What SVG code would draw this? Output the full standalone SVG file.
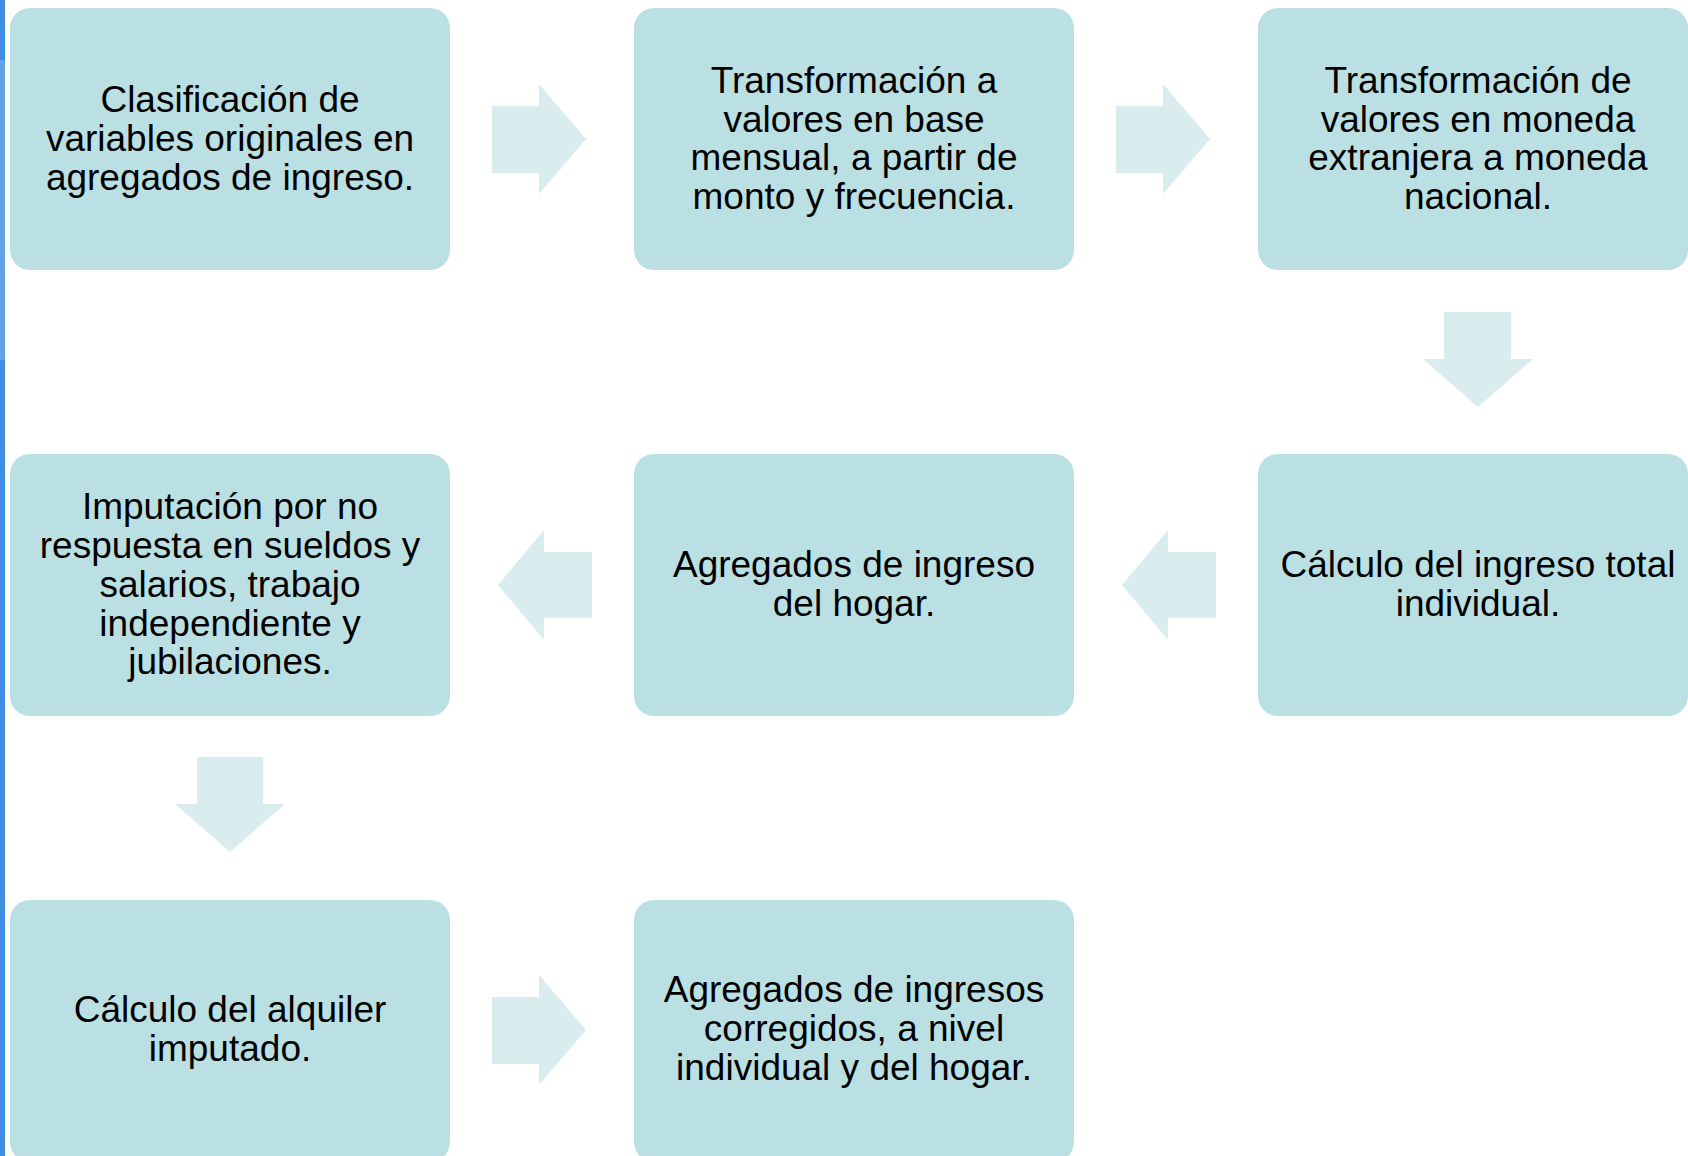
<svg xmlns="http://www.w3.org/2000/svg" width="1688" height="1156" viewBox="0 0 1688 1156">
<style>
.box{fill:#bbe0e3;}
.arr{fill:#d9ecee;}
.t{font-family:"Liberation Sans",Arial,sans-serif;font-size:37px;fill:#000;text-anchor:middle;}
</style>
<rect x="0" y="0" width="1688" height="1156" fill="#ffffff"/>
<rect x="0" y="0" width="5" height="1156" fill="#3f8ce0"/>
<rect x="0" y="60" width="5" height="300" fill="#62a3e8"/>
<g id="connectors">
<polygon class="arr" points="492,106 539,106 539,84 586,139 539,194 539,173 492,173"/>
<polygon class="arr" points="1116,106 1163,106 1163,84 1210,139 1163,194 1163,173 1116,173"/>
<polygon class="arr" points="1444,312 1511,312 1511,359 1533,359 1478,407 1423,359 1444,359"/>
<polygon class="arr" points="1216,552 1168,552 1168,530 1122,585 1168,640 1168,618 1216,618"/>
<polygon class="arr" points="592,552 544,552 544,530 498,585 544,640 544,618 592,618"/>
<polygon class="arr" points="197,757 263,757 263,804 285,804 230,852 175,804 197,804"/>
<polygon class="arr" points="492,997 539,997 539,975 586,1030 539,1085 539,1064 492,1064"/>
</g>
<g id="n1">
<rect class="box" x="10" y="8" width="440" height="262" rx="20"/>
<text class="t"><tspan x="230" y="112">Clasificación de</tspan><tspan x="230" y="151">variables originales en</tspan><tspan x="230" y="190">agregados de ingreso.</tspan></text>
</g>
<g id="n2">
<rect class="box" x="634" y="8" width="440" height="262" rx="20"/>
<text class="t"><tspan x="854" y="93">Transformación a</tspan><tspan x="854" y="132">valores en base</tspan><tspan x="854" y="170">mensual, a partir de</tspan><tspan x="854" y="209">monto y frecuencia.</tspan></text>
</g>
<g id="n3">
<rect class="box" x="1258" y="8" width="430" height="262" rx="20"/>
<text class="t"><tspan x="1478" y="93">Transformación de</tspan><tspan x="1478" y="132">valores en moneda</tspan><tspan x="1478" y="170">extranjera a moneda</tspan><tspan x="1478" y="209">nacional.</tspan></text>
</g>
<g id="n4">
<rect class="box" x="1258" y="454" width="430" height="262" rx="20"/>
<text class="t"><tspan x="1478" y="577">Cálculo del ingreso total</tspan><tspan x="1478" y="616">individual.</tspan></text>
</g>
<g id="n5">
<rect class="box" x="634" y="454" width="440" height="262" rx="20"/>
<text class="t"><tspan x="854" y="577">Agregados de ingreso</tspan><tspan x="854" y="616">del hogar.</tspan></text>
</g>
<g id="n6">
<rect class="box" x="10" y="454" width="440" height="262" rx="20"/>
<text class="t"><tspan x="230" y="519">Imputación por no</tspan><tspan x="230" y="558">respuesta en sueldos y</tspan><tspan x="230" y="597">salarios, trabajo</tspan><tspan x="230" y="636">independiente y</tspan><tspan x="230" y="674">jubilaciones.</tspan></text>
</g>
<g id="n7">
<rect class="box" x="10" y="900" width="440" height="262" rx="20"/>
<text class="t"><tspan x="230" y="1022">Cálculo del alquiler</tspan><tspan x="230" y="1061">imputado.</tspan></text>
</g>
<g id="n8">
<rect class="box" x="634" y="900" width="440" height="262" rx="20"/>
<text class="t"><tspan x="854" y="1002">Agregados de ingresos</tspan><tspan x="854" y="1041">corregidos, a nivel</tspan><tspan x="854" y="1080">individual y del hogar.</tspan></text>
</g>
</svg>
